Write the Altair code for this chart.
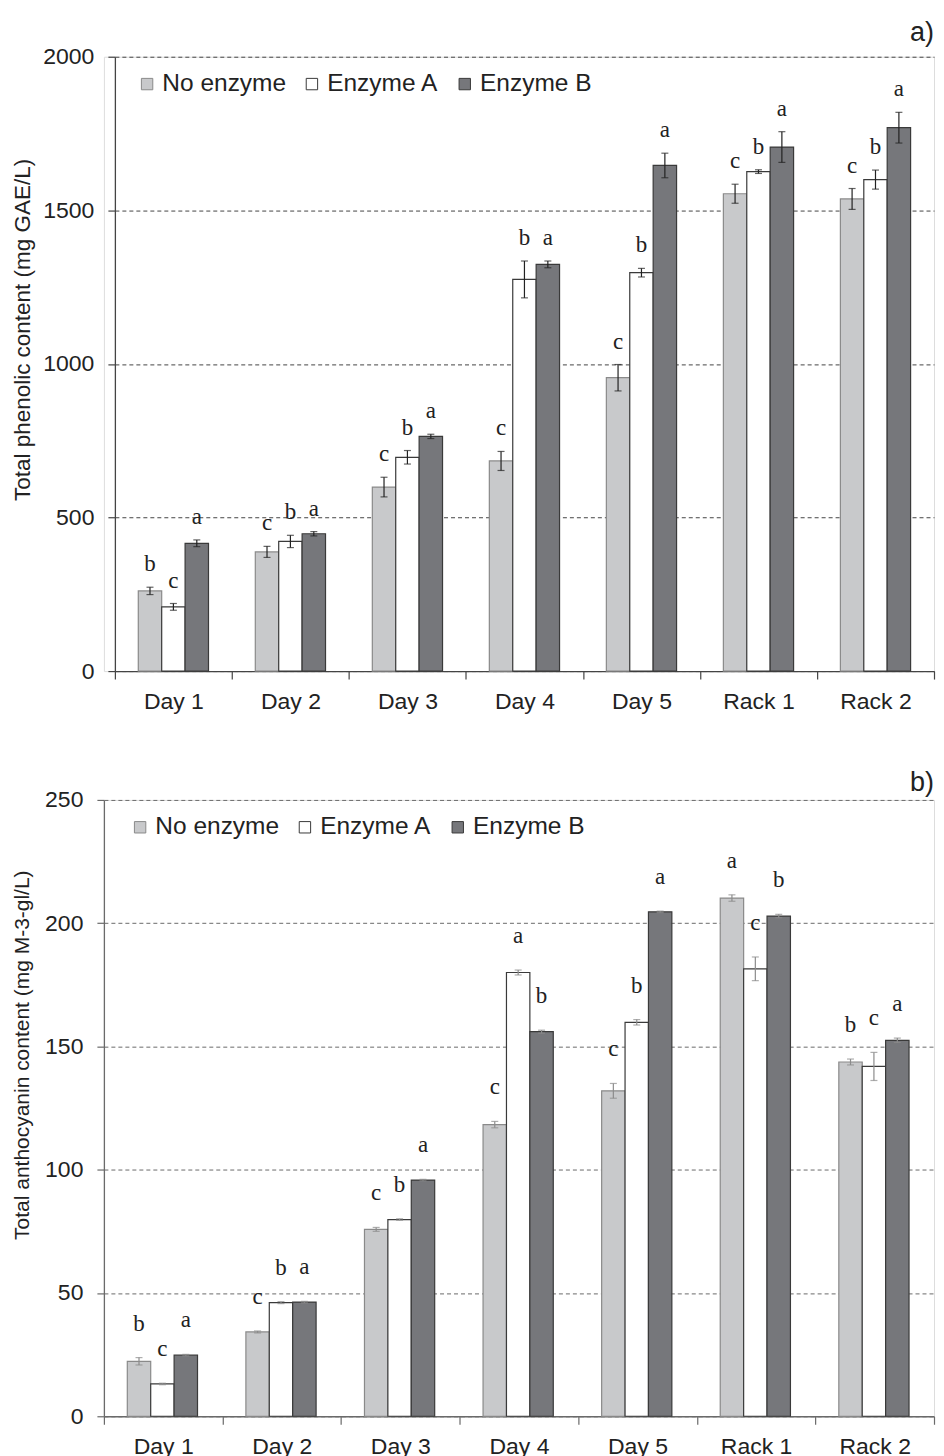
import altair as alt
import pandas as pd

categories = ["Day 1", "Day 2", "Day 3", "Day 4", "Day 5", "Rack 1", "Rack 2"]
treatments = ["No enzyme", "Enzyme A", "Enzyme B"]
panel_labels = ["a)", "b)"]

# Panel a) Total phenolic content (mg GAE/L)
phen_none = [261, 388, 599, 684, 955, 1554, 1537]
phen_enz_a = [209, 422, 696, 1275, 1297, 1626, 1600]
phen_enz_b = [416, 447, 764, 1324, 1646, 1706, 1769]
phen_none_err = [12, 18, 32, 31, 43, 31, 34]
phen_enz_a_err = [11, 20, 22, 60, 14, 6, 31]
phen_enz_b_err = [11, 7, 7, 11, 40, 50, 50]
phen_none_let = ["b", "c", "c", "c", "c", "c", "c"]
phen_enz_a_let = ["c", "b", "b", "b", "b", "b", "b"]
phen_enz_b_let = ["a", "a", "a", "a", "a", "a", "a"]

# Panel b) Total anthocyanin content (mg M-3-gl/L)
anth_none = [22.3, 34.2, 75.8, 118.3, 132.0, 210.2, 143.7]
anth_enz_a = [13.1, 46.1, 79.8, 180.0, 159.8, 181.5, 141.9]
anth_enz_b = [24.8, 46.3, 95.8, 156.0, 204.6, 202.9, 152.5]
anth_none_err = [1.5, 0.4, 0.8, 1.3, 3.0, 1.3, 1.2]
anth_enz_a_err = [0.3, 0.4, 0.3, 1.0, 1.1, 4.8, 5.7]
anth_enz_b_err = [0.3, 0.3, 0.3, 0.6, 0.3, 0.7, 0.9]
anth_none_let = ["b", "c", "c", "c", "c", "a", "b"]
anth_enz_a_let = ["c", "b", "b", "a", "b", "c", "c"]
anth_enz_b_let = ["a", "a", "a", "b", "a", "b", "a"]

FONT = "Liberation Sans"
SERIF = "Liberation Serif"
FILLS = ["#c8c9cb", "#ffffff", "#76777b"]
STROKES = ["#8a8a8a", "#3a3a3a", "#3a3a3a"]


def make_df(vals, errs, lets):
    rows = []
    for t, vl, el, ll in zip(treatments, vals, errs, lets):
        for c, v, e, l in zip(categories, vl, el, ll):
            rows.append({"cat": c, "trt": t, "v": v, "lo": v - e, "hi": v + e, "let": l})
    return pd.DataFrame(rows)


def panel(df, ymax, ystep, width, height, xrange, yoffset, ytitle, title_fs,
          title_x, title_y, label, label_y, axis_color, err_color,
          letter_dy, legend_x):
    x = alt.X("cat:N", sort=categories,
              scale=alt.Scale(domain=categories, paddingInner=0, paddingOuter=0,
                              range=xrange),
              axis=alt.Axis(title=None, labelAngle=0, tickBand="extent",
                            labelFont=FONT, labelFontSize=23, labelColor="#222",
                            labelPadding=11, tickSize=8, tickColor=axis_color,
                            tickWidth=1.2, domainColor=axis_color, domainWidth=1.3,
                            grid=False))
    xo = alt.XOffset("trt:N", sort=treatments,
                     scale=alt.Scale(domain=treatments, paddingInner=0, paddingOuter=1))
    yscale = alt.Scale(domain=[0, ymax], nice=False)
    yax = alt.Axis(title=ytitle, values=list(range(0, ymax + 1, ystep)), format="d",
                   offset=yoffset,
                   grid=True, gridDash=[4, 3], gridColor=axis_color, gridWidth=1,
                   domainColor=axis_color, domainWidth=1.3, tickColor=axis_color,
                   tickWidth=1.2, tickSize=7, labelFont=FONT, labelFontSize=23,
                   labelColor="#222", labelPadding=14, titleFont=FONT,
                   titleFontSize=title_fs, titleFontWeight="normal", titleColor="#222",
                   titleX=title_x, titleY=title_y, titleBaseline="middle")
    base = alt.Chart(df)
    bars = base.mark_bar(strokeWidth=1.2).encode(
        x=x, xOffset=xo,
        y=alt.Y("v:Q", scale=yscale, axis=yax),
        fill=alt.Fill("trt:N", sort=treatments,
                      scale=alt.Scale(domain=treatments, range=FILLS),
                      legend=alt.Legend(title=None, orient="none", direction="horizontal",
                                        legendX=legend_x, legendY=15, padding=0,
                                        labelFont=FONT, labelFontSize=24.5,
                                        labelColor="#222", symbolType="square",
                                        symbolSize=130, symbolStrokeColor="#555",
                                        symbolStrokeWidth=1, columnPadding=13,
                                        labelOffset=3, labelLimit=300)),
        stroke=alt.Stroke("trt:N", sort=treatments,
                          scale=alt.Scale(domain=treatments, range=STROKES),
                          legend=None),
    )
    err = base.mark_rule(color=err_color, strokeWidth=1.2).encode(
        x=x, xOffset=xo, y=alt.Y("lo:Q", scale=yscale, axis=yax), y2="hi:Q")
    cap_lo = base.mark_tick(color=err_color, size=7, thickness=1.2).encode(
        x=x, xOffset=xo, y=alt.Y("lo:Q", scale=yscale, axis=yax))
    cap_hi = base.mark_tick(color=err_color, size=7, thickness=1.2).encode(
        x=x, xOffset=xo, y=alt.Y("hi:Q", scale=yscale, axis=yax))
    letters = base.mark_text(font=SERIF, fontSize=23, color="#222",
                             baseline="alphabetic", dy=-letter_dy).encode(
        x=x, xOffset=xo, y=alt.Y("hi:Q", scale=yscale, axis=yax), text="let:N")
    tag = alt.Chart(pd.DataFrame({"t": [label]})).mark_text(
        font=FONT, fontSize=27, color="#222", align="right", baseline="bottom").encode(
        x=alt.value(width), y=alt.value(label_y), text="t:N")
    return alt.layer(bars, err, cap_lo, cap_hi, letters, tag).properties(
        width=width, height=height)


df_a = make_df([phen_none, phen_enz_a, phen_enz_b],
               [phen_none_err, phen_enz_a_err, phen_enz_b_err],
               [phen_none_let, phen_enz_a_let, phen_enz_b_let])
df_b = make_df([anth_none, anth_enz_a, anth_enz_b],
               [anth_none_err, anth_enz_a_err, anth_enz_b_err],
               [anth_none_let, anth_enz_a_let, anth_enz_b_let])

chart_a = panel(df_a, 2000, 500, 831, 615, [11, 831], -11,
                "Total phenolic content (mg GAE/L)",
                22.5, -92, 273, panel_labels[0], -10, "#444444", "#222222", 16, 31)
chart_b = panel(df_b, 250, 50, 831, 617, [0, 831], 0,
                "Total anthocyanin content  (mg M-3-gl/L)",
                21, -81, 255, panel_labels[1], -3, "#6a6a6a", "#8c8c8c", 27, 24)

chart = alt.concat(chart_a, chart_b, columns=1, spacing=54).resolve_scale(
    fill="independent", stroke="independent").resolve_legend(
    fill="independent").properties(
    padding={"left": 3, "top": 9, "right": 0, "bottom": 5}).configure_view(
    strokeWidth=0).configure(font=FONT)

chart.save("out.html", embed_options={"renderer": "svg", "actions": False})
